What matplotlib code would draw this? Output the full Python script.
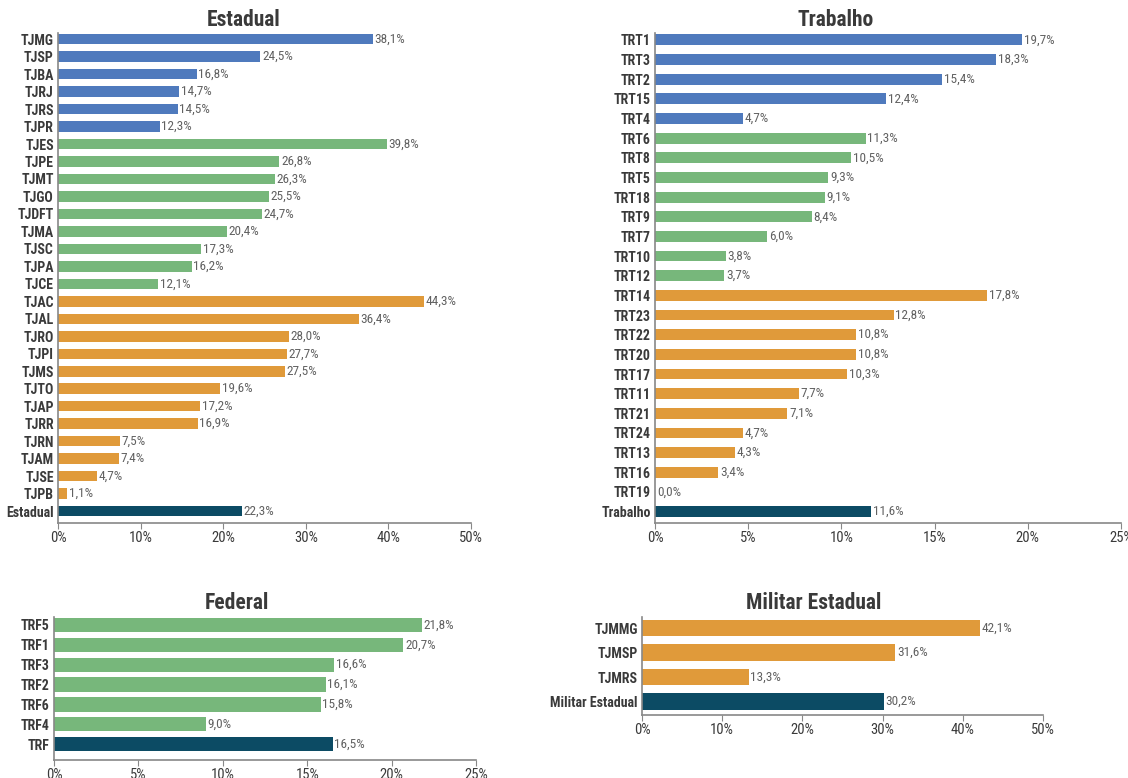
import matplotlib.pyplot as plt
from matplotlib import font_manager
from matplotlib.ticker import FuncFormatter

# pick the narrowest family that is installed
installed = {f.name for f in font_manager.fontManager.ttflist}
candidates = ['Liberation Sans Narrow', 'Roboto Condensed', 'Open Sans Condensed',
              'DejaVu Sans Condensed', 'Roboto', 'Liberation Sans']
family = next((c for c in candidates if c in installed), 'DejaVu Sans')
plt.rcParams['font.family'] = [family, 'DejaVu Sans']

BLUE = '#4f7abd'
GREEN = '#77b77b'
ORANGE = '#e09a3a'
DARK = '#0c4b64'
TEXT = '#3a3a3a'
VAL = '#616161'

# Estadual
est_labels = ['TJMG', 'TJSP', 'TJBA', 'TJRJ', 'TJRS', 'TJPR',
              'TJES', 'TJPE', 'TJMT', 'TJGO', 'TJDFT', 'TJMA', 'TJSC', 'TJPA', 'TJCE',
              'TJAC', 'TJAL', 'TJRO', 'TJPI', 'TJMS', 'TJTO', 'TJAP', 'TJRR', 'TJRN',
              'TJAM', 'TJSE', 'TJPB', 'Estadual']
est_values = [38.1, 24.5, 16.8, 14.7, 14.5, 12.3,
              39.8, 26.8, 26.3, 25.5, 24.7, 20.4, 17.3, 16.2, 12.1,
              44.3, 36.4, 28.0, 27.7, 27.5, 19.6, 17.2, 16.9, 7.5,
              7.4, 4.7, 1.1, 22.3]
est_groups = ['large'] * 6 + ['medium'] * 9 + ['small'] * 12 + ['total']

# Trabalho
trab_labels = ['TRT1', 'TRT3', 'TRT2', 'TRT15', 'TRT4',
               'TRT6', 'TRT8', 'TRT5', 'TRT18', 'TRT9', 'TRT7', 'TRT10', 'TRT12',
               'TRT14', 'TRT23', 'TRT22', 'TRT20', 'TRT17', 'TRT11', 'TRT21', 'TRT24',
               'TRT13', 'TRT16', 'TRT19', 'Trabalho']
trab_values = [19.7, 18.3, 15.4, 12.4, 4.7,
               11.3, 10.5, 9.3, 9.1, 8.4, 6.0, 3.8, 3.7,
               17.8, 12.8, 10.8, 10.8, 10.3, 7.7, 7.1, 4.7,
               4.3, 3.4, 0.0, 11.6]
trab_groups = ['large'] * 5 + ['medium'] * 8 + ['small'] * 11 + ['total']

# Federal
fed_labels = ['TRF5', 'TRF1', 'TRF3', 'TRF2', 'TRF6', 'TRF4', 'TRF']
fed_values = [21.8, 20.7, 16.6, 16.1, 15.8, 9.0, 16.5]
fed_groups = ['medium'] * 6 + ['total']

# Militar Estadual
mil_labels = ['TJMMG', 'TJMSP', 'TJMRS', 'Militar Estadual']
mil_values = [42.1, 31.6, 13.3, 30.2]
mil_groups = ['small'] * 3 + ['total']

group_colors = {'large': BLUE, 'medium': GREEN, 'small': ORANGE, 'total': DARK}

narrow = family in ('Liberation Sans Narrow', 'Roboto Condensed', 'Open Sans Condensed',
                    'DejaVu Sans Condensed')
LBL = 10 if narrow else 8.5
VALSZ = 9.5 if narrow else 8.5
TICK = 10.5 if narrow else 9
TTL = 15.5 if narrow else 13.5

W, H = 1128, 778
fig = plt.figure(figsize=(W / 100, H / 100), dpi=100)


def pct(x, pos):
    return f'{x:g}%'


def axes_px(x0, y0, x1, y1):
    return fig.add_axes([x0 / W, 1 - y1 / H, (x1 - x0) / W, (y1 - y0) / H])


def draw(ax, title, title_xy, labels, values, groups, xmax, step, height, top_pad, bottom_pad):
    n = len(labels)
    y = list(range(n))
    colors = [group_colors[g] for g in groups]
    ax.barh(y, values, height=height, color=colors)
    ax.set_ylim(n - 1 + bottom_pad, -top_pad)
    ax.set_xlim(0, xmax)
    ax.set_yticks(y)
    ax.set_yticklabels(labels, fontweight='bold', fontsize=LBL, color=TEXT)
    ax.set_xticks([i * step for i in range(int(xmax / step) + 1)])
    ax.xaxis.set_major_formatter(FuncFormatter(pct))
    ax.tick_params(axis='x', labelsize=TICK, colors=TEXT, length=4, color='#888888', pad=2)
    ax.tick_params(axis='y', length=0, pad=3)
    for s in ['top', 'right']:
        ax.spines[s].set_visible(False)
    for s in ['left', 'bottom']:
        ax.spines[s].set_color('#888888')
        ax.spines[s].set_linewidth(1.2)
    for yi, v in zip(y, values):
        ax.text(v + xmax * 0.004, yi, f'{v:.1f}'.replace('.', ',') + '%',
                va='center', ha='left', fontsize=VALSZ, color=VAL)
    fig.text(title_xy[0] / W, 1 - title_xy[1] / H, title, ha='center', va='center',
             fontweight='bold', fontsize=TTL, color=TEXT)


ax1 = axes_px(58, 33, 471, 523)
draw(ax1, 'Estadual', (244, 20), est_labels, est_values, est_groups, 50, 10, 0.6, 0.35, 0.68)

ax2 = axes_px(655, 33, 1121, 523)
draw(ax2, 'Trabalho', (836, 20), trab_labels, trab_values, trab_groups, 25, 5, 0.55, 0.35, 0.58)

ax3 = axes_px(54, 617, 476, 760)
draw(ax3, 'Federal', (237, 603), fed_labels, fed_values, fed_groups, 25, 5, 0.72, 0.4, 0.8)

ax4 = axes_px(642, 617, 1043, 715)
draw(ax4, 'Militar Estadual', (814, 603), mil_labels, mil_values, mil_groups, 50, 10, 0.68, 0.45, 0.55)

fig.savefig('out.png', dpi=100, facecolor='white')
